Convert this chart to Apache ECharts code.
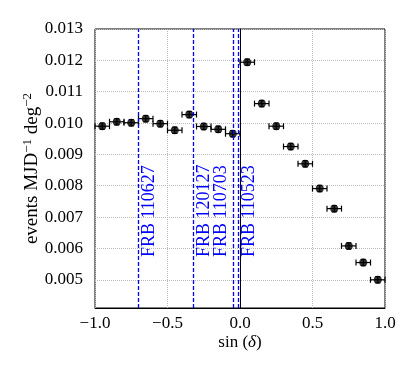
<!DOCTYPE html>
<html>
<head>
<meta charset="utf-8">
<script src="https://cdn.jsdelivr.net/npm/echarts@6/dist/echarts.min.js"></script>
<style>
  html, body { margin: 0; padding: 0; background: #fff; }
  #chart { width: 415px; height: 374px; }
</style>
</head>
<body>
<div id="chart"></div>
<script>
// binned event rate vs sin(declination)
const sinDec = [-0.95, -0.85, -0.75, -0.65, -0.55, -0.45, -0.35, -0.25, -0.15, -0.05,
                0.05, 0.15, 0.25, 0.35, 0.45, 0.55, 0.65, 0.75, 0.85, 0.95];
const rate = [0.00990, 0.01004, 0.01001, 0.01014, 0.00998, 0.00977, 0.01027, 0.00989, 0.00980, 0.00966,
              0.01194, 0.01062, 0.00990, 0.00925, 0.00870, 0.00791, 0.00727, 0.00608, 0.00555, 0.00500];
const sinErr = [0.05, 0.05, 0.05, 0.05, 0.05, 0.05, 0.05, 0.05, 0.05, 0.05,
                0.05, 0.05, 0.05, 0.05, 0.05, 0.05, 0.05, 0.05, 0.05, 0.05];
const rateErr = [0.0001, 0.0001, 0.0001, 0.0001, 0.0001, 0.0001, 0.0001, 0.0001, 0.0001, 0.0001,
                 0.0001, 0.0001, 0.0001, 0.0001, 0.0001, 0.0001, 0.0001, 0.0001, 0.0001, 0.0001];

// FRB positions (label side: 1 = right of line, -1 = left)
const frbNames = ["FRB 110627", "FRB 120127", "FRB 110703", "FRB 110523"];
const frbSinDec = [-0.705, -0.318, -0.050, -0.005];
const frbSide = [1, 1, -1, 1];

const yTicks = [0.005, 0.006, 0.007, 0.008, 0.009, 0.010, 0.011, 0.012, 0.013];

const font = "Liberation Serif";
const chart = echarts.init(document.getElementById("chart"));

const points = sinDec.map((x, i) => [x, rate[i], sinErr[i], rateErr[i]]);

const option = {
  animation: false,
  grid: {
    left: 95, right: 30, top: 29, bottom: 66,
    show: true, borderColor: "#000", borderWidth: 1
  },
  xAxis: {
    type: "value",
    min: -1, max: 1, interval: 0.5,
    name: "{t|sin (}{i|δ}{t|)}",
    nameLocation: "middle",
    nameGap: 26,
    nameMoveOverlap: false,
    nameTextStyle: {
      rich: {
        t: { fontFamily: font, fontSize: 17, color: "#000" },
        i: { fontFamily: font, fontSize: 17, fontStyle: "italic", color: "#000" }
      }
    },
    axisLine: { lineStyle: { color: "#000", width: 1 } },
    axisTick: { show: false },
    axisLabel: {
      fontFamily: font, fontSize: 17, color: "#000", margin: 7,
      formatter: (v) => v.toFixed(1).replace("-", "\u2212")
    },
    splitLine: { show: true, lineStyle: { color: "#bbb", type: "dotted", width: 1 } }
  },
  yAxis: {
    type: "value",
    min: 0.0041, max: 0.013,
    name: "{t|events MJD}{s|\u22121}{t| deg}{s|\u22122}",
    nameLocation: "middle",
    nameRotate: 90,
    nameGap: 51,
    nameMoveOverlap: false,
    nameTextStyle: {
      rich: {
        t: { fontFamily: font, fontSize: 19, color: "#000" },
        s: { fontFamily: font, fontSize: 13, color: "#000", padding: [0, 0, 10, 0] }
      }
    },
    axisLine: { show: true, lineStyle: { color: "#000", width: 1 } },
    axisTick: { show: false, customValues: yTicks },
    axisLabel: {
      fontFamily: font, fontSize: 17, color: "#000", margin: 12,
      customValues: yTicks,
      formatter: (v) => v.toFixed(3)
    },
    splitLine: { show: true, lineStyle: { color: "#bbb", type: "dotted", width: 1 } }
  },
  series: [
    {
      type: "custom",
      data: points,
      z: 3,
      renderItem: (params, api) => {
        const x = api.value(0), y = api.value(1), ex = api.value(2), ey = api.value(3);
        const l = api.coord([x - ex, y]), r = api.coord([x + ex, y]);
        const b = api.coord([x, y - ey]), t = api.coord([x, y + ey]);
        const cap = 3;
        const style = { stroke: "#000", lineWidth: 1.2 };
        return {
          type: "group",
          children: [
            { type: "line", shape: { x1: l[0], y1: l[1], x2: r[0], y2: r[1] }, style },
            { type: "line", shape: { x1: l[0], y1: l[1] - cap, x2: l[0], y2: l[1] + cap }, style },
            { type: "line", shape: { x1: r[0], y1: r[1] - cap, x2: r[0], y2: r[1] + cap }, style },
            { type: "line", shape: { x1: b[0], y1: b[1], x2: t[0], y2: t[1] }, style },
            { type: "line", shape: { x1: b[0] - 2.5, y1: b[1], x2: b[0] + 2.5, y2: b[1] }, style },
            { type: "line", shape: { x1: t[0] - 2.5, y1: t[1], x2: t[0] + 2.5, y2: t[1] }, style }
          ]
        };
      }
    },
    {
      type: "scatter",
      data: points.map((p) => [p[0], p[1]]),
      symbol: "circle",
      symbolSize: 8,
      itemStyle: { color: "#000" },
      z: 4,
      markLine: {
        silent: true,
        symbol: ["none", "none"],
        lineStyle: { color: "#0000ff", type: [4, 2], width: 1.3 },
        label: {
          show: true,
          formatter: (p) => p.name,
          fontFamily: font, fontSize: 18, color: "#0000ff",
          distance: [51, 2]
        },
        data: frbSinDec.map((x, i) => ({
          xAxis: x,
          name: frbNames[i],
          label: { position: frbSide[i] > 0 ? "insideStartBottom" : "insideStartTop" }
        }))
      }
    }
  ]
};

chart.setOption(option);
</script>
</body>
</html>
